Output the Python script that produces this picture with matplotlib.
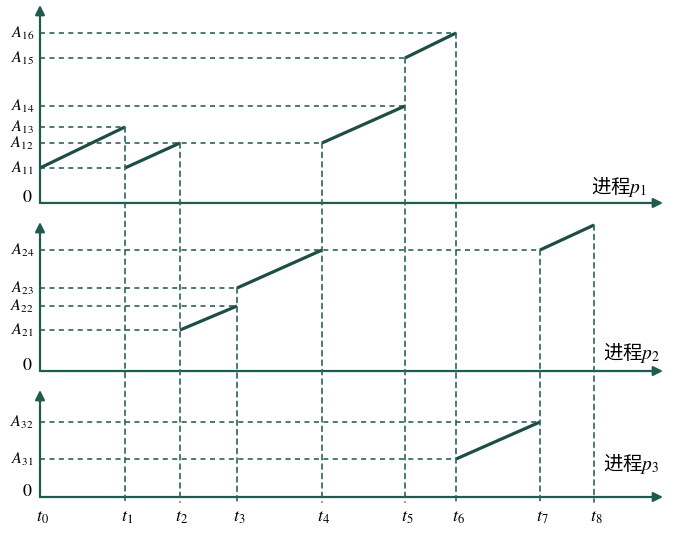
import matplotlib.pyplot as plt
from matplotlib.patches import ConnectionPatch

plt.rcParams['font.family'] = ['Noto Sans CJK SC', 'DejaVu Sans']
plt.rcParams['mathtext.fontset'] = 'stix'
plt.rcParams['lines.scale_dashes'] = False

# time instants t0..t8
T = [0, 85, 140, 197, 282, 365, 416, 500, 554]
T_LABELS = [r'$t_{%d}$' % i for i in range(9)]

# levels of each process (A11..A16, A21..A24 + unlabeled end, A31..A32)
A1 = [35, 60, 76, 97, 145, 170]
A1_NAMES = [r'$A_{11}$', r'$A_{12}$', r'$A_{13}$', r'$A_{14}$', r'$A_{15}$', r'$A_{16}$']
A2 = [41, 65, 83, 121]
A2_NAMES = [r'$A_{21}$', r'$A_{22}$', r'$A_{23}$', r'$A_{24}$']
A2_END = 146
A3 = [38, 75]
A3_NAMES = [r'$A_{31}$', r'$A_{32}$']

# solid segments: (start t index, start value, end t index, end value)
SEG1 = [(0, A1[0], 1, A1[2]), (1, A1[0], 2, A1[1]),
        (4, A1[1], 5, A1[3]), (5, A1[4], 6, A1[5])]
SEG2 = [(2, A2[0], 3, A2[1]), (3, A2[2], 4, A2[3]), (7, A2[3], 8, A2_END)]
SEG3 = [(6, A3[0], 7, A3[1])]

# horizontal guide: each level runs to this t index
H1 = [1, 4, 1, 5, 5, 6]
H2 = [2, 3, 3, 7]
H3 = [6, 7]

# vertical guide: t index, panel, starting value
V = [(1, 0, A1[2]), (2, 0, A1[1]), (3, 1, A2[2]), (4, 0, A1[1]),
     (5, 0, A1[4]), (6, 0, A1[5]), (7, 1, A2[3]), (8, 1, A2_END)]

AXIS_C = '#1f5c50'
DASH_C = '#2e6358'
LINE_C = '#1d4e46'
DASH = (3.6, 3.2)

fig = plt.figure(figsize=(6.74, 5.33), dpi=100)
ax1 = fig.add_axes([0, 0.6023, 1, 0.3977])
ax2 = fig.add_axes([0, 0.2814, 1, 0.3208])
ax3 = fig.add_axes([0, 0.0, 1, 0.2814])
axes = [ax1, ax2, ax3]
ax1.set_ylim(-9, 203)
ax2.set_ylim(-12, 159)
ax3.set_ylim(-36, 114)
tops = [198, 149, 107]

panels = [(A1, A1_NAMES, SEG1, H1, '进程$p_1$', (551, 16)),
          (A2, A2_NAMES, SEG2, H2, '进程$p_2$', (563, 18)),
          (A3, A3_NAMES, SEG3, H3, '进程$p_3$', (563, 33))]

for ax, top, (vals, names, segs, hor, label, lpos) in zip(axes, tops, panels):
    ax.set_xlim(-40, 634)
    ax.axis('off')
    # axes arrows
    ax.annotate('', xy=(0, top), xytext=(0, 0),
                arrowprops=dict(arrowstyle='-|>', color=AXIS_C, lw=1.6,
                                mutation_scale=14, shrinkA=0, shrinkB=0))
    ax.annotate('', xy=(623, 0), xytext=(0, 0),
                arrowprops=dict(arrowstyle='-|>', color=AXIS_C, lw=1.6,
                                mutation_scale=14, shrinkA=0, shrinkB=0))
    # guides and level labels
    for v, name, k in zip(vals, names, hor):
        ax.plot([0, T[k]], [v, v], color=DASH_C, lw=1.2, ls='--', dashes=DASH)
        ax.text(-6, v, name, ha='right', va='center', fontsize=11.5)
    ax.text(-7, 6, r'$\mathrm{0}$', ha='right', va='center', fontsize=13)
    for i0, v0, i1, v1 in segs:
        ax.plot([T[i0], T[i1]], [v0, v1], color=LINE_C, lw=2.3,
                solid_capstyle='butt')
    ax.text(lpos[0], lpos[1], label, fontsize=14, va='center')

for ti, p, v in V:
    con = ConnectionPatch(xyA=(T[ti], v), coordsA=axes[p].transData,
                          xyB=(T[ti], -5), coordsB=ax3.transData,
                          color=DASH_C, lw=1.2, linestyle=(0, DASH))
    fig.add_artist(con)

for t, lab in zip(T, T_LABELS):
    ax3.text(t + 2, -20, lab, ha='center', va='center', fontsize=13)

fig.savefig('out.png', dpi=100)
